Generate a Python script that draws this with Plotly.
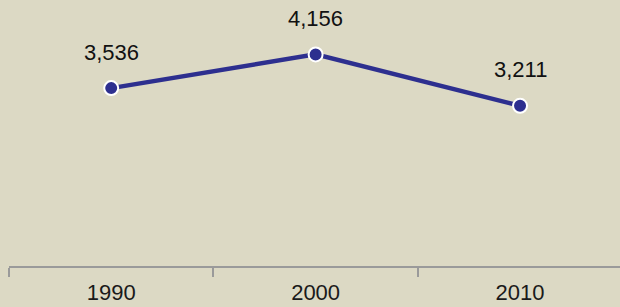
import plotly.graph_objects as go

years = ["1990", "2000", "2010"]
values = [3536, 4156, 3211]
labels = ["3,536", "4,156", "3,211"]

BG = "#dcd9c4"
BLUE = "#2d2f8f"

fig = go.Figure()
fig.add_trace(go.Scatter(
    x=years, y=values, mode="lines+markers",
    line=dict(color=BLUE, width=4.5),
    marker=dict(size=14, color=BLUE, line=dict(color="white", width=2)),
    hoverinfo="skip", showlegend=False,
))

for i, (v, t) in enumerate(zip(values, labels)):
    fig.add_annotation(x=i, y=v, xref="x", yref="y", text=t, showarrow=False,
                       yanchor="middle", yshift=36,
                       font=dict(family="Liberation Sans, Arial, sans-serif", size=22, color="#111111"))

fig.update_layout(
    width=620, height=307,
    margin=dict(l=9, r=0, t=0, b=41),
    paper_bgcolor=BG, plot_bgcolor=BG,
    font=dict(family="Liberation Sans, Arial, sans-serif", color="#222222"),
)
fig.update_xaxes(
    type="category", range=[-0.5, 2.489],
    showline=True, linecolor="#9a9a9a", linewidth=1.5,
    ticks="outside", tickson="boundaries", ticklen=9, tickcolor="#9a9a9a", tickwidth=1.5,
    ticklabelstandoff=6,
    showgrid=False, zeroline=False,
    tickfont=dict(size=22, color="#1a1a1a"),
)
fig.update_yaxes(visible=False, range=[266, 5156], showgrid=False, zeroline=False)

fig.write_html("out.html", config={"displayModeBar": False})
with open("out.html", "r", encoding="utf-8") as f:
    html = f.read()
html = html.replace("<body>", '<body style="margin:0;padding:0;">', 1)
with open("out.html", "w", encoding="utf-8") as f:
    f.write(html)
